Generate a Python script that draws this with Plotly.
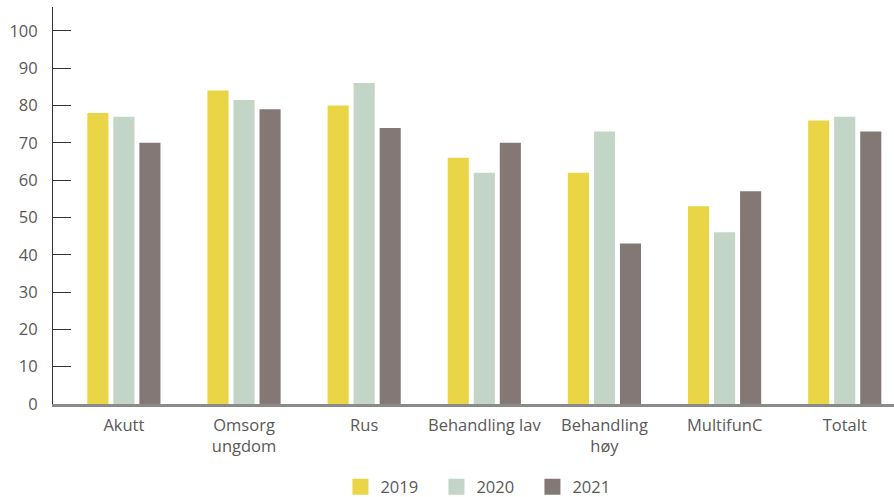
import plotly.graph_objects as go

categories = ["Akutt", "Omsorg<br>ungdom", "Rus", "Behandling lav", "Behandling<br>høy", "MultifunC", "Totalt"]
series_names = ["2019", "2020", "2021"]
values_2019 = [78, 84, 80, 66, 62, 53, 76]
values_2020 = [77, 81.5, 86, 62, 73, 46, 77]
values_2021 = [70, 79, 74, 70, 43, 57, 73]
colors = ["#E9D545", "#C3D5C6", "#847876"]
y_ticks = [0, 10, 20, 30, 40, 50, 60, 70, 80, 90, 100]

fig = go.Figure()
for name, vals, col in zip(series_names, [values_2019, values_2020, values_2021], colors):
    fig.add_trace(go.Bar(x=categories, y=vals, name=name, marker_color=col,
                         marker_line_width=0, showlegend=False))
# legend entries with larger square swatches
for name, col in zip(series_names, colors):
    fig.add_trace(go.Scatter(x=[None], y=[None], mode="markers", name=name,
                             marker=dict(symbol="square", size=20, color=col)))

font_family = "'Open Sans', sans-serif"
txt = "#595959"
fs = 16.5
fig.update_layout(
    width=894, height=497,
    margin=dict(l=53, r=0, t=7, b=93, autoexpand=False),
    plot_bgcolor="white", paper_bgcolor="white",
    barmode="group", bargap=0.35, bargroupgap=0.19,
    font=dict(family=font_family, size=fs, color=txt),
    showlegend=True,
    legend=dict(orientation="h", x=0.513, xanchor="center", yref="container",
                y=0.02, yanchor="middle",
                font=dict(size=fs, color=txt), entrywidth=51, traceorder="normal",
                itemsizing="trace"),
    xaxis=dict(showline=True, linecolor="#8A8A8A", linewidth=2.5, ticks="",
               range=[-0.59, 6.41],
               showgrid=False, automargin=False, ticklabelstandoff=4,
               tickfont=dict(size=fs, color=txt)),
    yaxis=dict(range=[0, 106.4], tickvals=y_ticks, showgrid=False, zeroline=False,
               showline=True, linecolor="#333333", linewidth=1, automargin=False,
               ticks="inside", ticklen=18, tickcolor="#333333", tickwidth=1.2,
               ticklabelstandoff=11, tickfont=dict(size=fs, color=txt)),
)

fig.write_html("out.html", config={"displayModeBar": False},
               post_script="document.body.style.margin='0';")
